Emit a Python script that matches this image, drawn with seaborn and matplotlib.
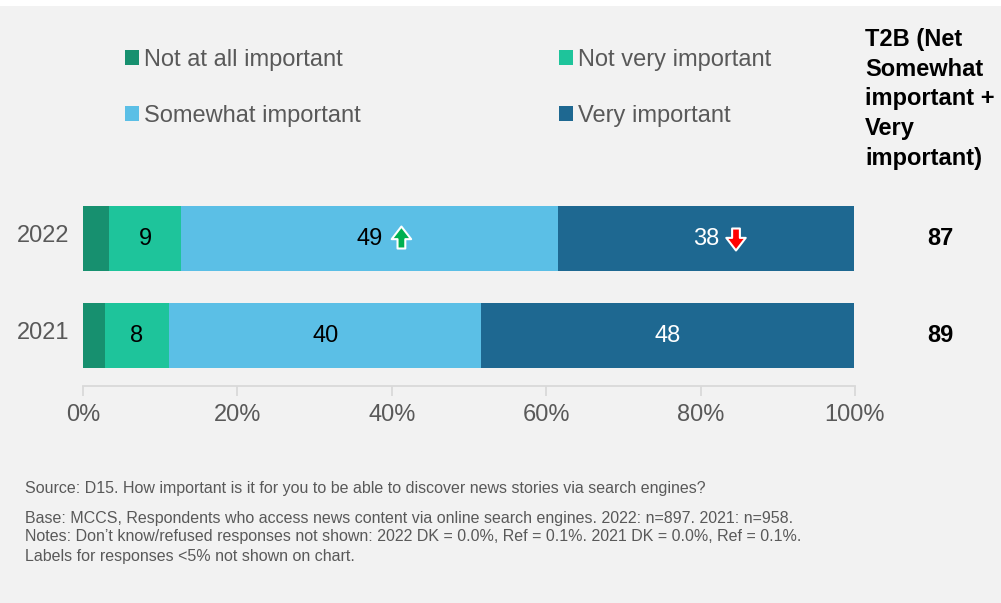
import matplotlib
matplotlib.use("Agg")
import matplotlib.pyplot as plt
from matplotlib.patches import Patch, Rectangle
from matplotlib.transforms import offset_copy, blended_transform_factory, ScaledTranslation
import numpy as np
import pandas as pd
import seaborn as sns

# ---- data -------------------------------------------------------------
years = ["2022", "2021"]
categories = ["Not at all important", "Not very important",
              "Somewhat important", "Very important"]
not_at_all = [3.4, 2.8]
not_very = [9.3, 8.4]
somewhat = [48.8, 40.4]
very = [38.4, 48.3]
t2b = [87, 89]
xticks = [0, 20, 40, 60, 80, 100]
xtick_labels = ["0%", "20%", "40%", "60%", "80%", "100%"]

colors = ["#17906f", "#1ec49b", "#5bbfe6", "#1e6891"]
label_colors = ["black", "black", "black", "white"]
BG = "#f2f2f2"
GREY_TXT = "#595959"

sns.set_theme(style="white")
plt.rcParams["font.family"] = ["Liberation Sans", "DejaVu Sans"]

df = pd.DataFrame({
    "year": years,
    categories[0]: not_at_all,
    categories[1]: not_very,
    categories[2]: somewhat,
    categories[3]: very,
})
segs = df[categories].to_numpy()
cum = np.cumsum(segs, axis=1)

fig = plt.figure(figsize=(10.01, 6.03), dpi=100, facecolor=BG)
fig.patches.append(Rectangle((0, 1 - 6 / 603), 1, 6 / 603, transform=fig.transFigure,
                             facecolor="white", edgecolor="none", zorder=0))
ax = fig.add_axes([83 / 1001, 1 - 386 / 603, 772 / 1001, 196 / 603])
ax.set_facecolor(BG)

# stacked bars: draw cumulative totals from the largest down
for j in range(len(categories) - 1, -1, -1):
    plot_df = pd.DataFrame({"year": years, "value": cum[:, j]})
    sns.barplot(data=plot_df, x="value", y="year", order=years, orient="h",
                color=colors[j], saturation=1, width=0.67, ax=ax,
                edgecolor="none", linewidth=0)

ax.set_xlim(0, 100)
ax.set_ylim(1.52, -0.5)
ax.set_xlabel("")
ax.set_ylabel("")

# segment labels (responses under 5% are left unlabelled)
for i in range(len(years)):
    for j in range(len(categories)):
        v = segs[i, j]
        if v < 5:
            continue
        cx = cum[i, j] - v / 2
        ax.text(cx, i, f"{v:.0f}", ha="center", va="center",
                fontsize=17, color=label_colors[j])

# significance arrows for 2022
def sig_arrow(x, y, up, face, dx):
    tip = offset_copy(ax.transData, fig=fig, x=dx, y=12 if up else -12, units="dots")
    tail = offset_copy(ax.transData, fig=fig, x=dx, y=-10 if up else 10, units="dots")
    ax.annotate("", xy=(x, y), xycoords=tip, xytext=(x, y), textcoords=tail,
                arrowprops=dict(arrowstyle="simple,head_length=0.65,head_width=1.0,tail_width=0.4",
                                mutation_scale=14, fc=face, ec="white", lw=1.5,
                                shrinkA=0, shrinkB=0))

sig_arrow(cum[0, 2] - segs[0, 2] / 2, 0, True, "#00b050", 32)
sig_arrow(cum[0, 3] - segs[0, 3] / 2, 0, False, "#ff0000", 30)

# axes styling
sns.despine(ax=ax, left=True, top=True, right=True)
ax.spines["bottom"].set_color("#d9d9d9")
ax.spines["bottom"].set_linewidth(1.3)
ax.set_xticks(xticks)
ax.set_xticklabels(xtick_labels)
ax.tick_params(axis="x", bottom=True, length=7, width=1.3, color="#d9d9d9",
               labelsize=17, labelcolor=GREY_TXT, pad=6)
ax.tick_params(axis="y", left=False, length=0, labelsize=17, labelcolor=GREY_TXT, pad=10)
lift = ScaledTranslation(0, 5 / 100, fig.dpi_scale_trans)
for lbl in ax.get_yticklabels():
    lbl.set_transform(lbl.get_transform() + lift)

# legend, filled row by row
order = [0, 2, 1, 3]
handles = [Patch(facecolor=colors[k], edgecolor="none") for k in order]
fig.legend(handles, [categories[k] for k in order], loc="upper left",
           bbox_to_anchor=(125 / 1001, 1 - 49 / 603),
           ncol=2, frameon=False, fontsize=17, labelcolor=GREY_TXT,
           handlelength=0.6, handleheight=0.6, handletextpad=0.2,
           columnspacing=8.4, labelspacing=1.42, borderpad=0, borderaxespad=0)

# T2B column
fig.text(865 / 1001, 1 - 28 / 603,
         "T2B (Net\nSomewhat\nimportant +\nVery\nimportant)",
         ha="left", va="top", fontsize=17, fontweight="bold", color="black",
         linespacing=1.37)
bt = blended_transform_factory(fig.transFigure, ax.transData)
for i, v in enumerate(t2b):
    ax.text(940 / 1001, i, f"{v}", transform=bt, ha="center", va="center",
            fontsize=17, fontweight="bold", color="black")

# footnotes
fig.text(25 / 1001, 1 - 489 / 603,
         "Source: D15. How important is it for you to be able to discover news stories via search engines?",
         ha="left", va="center", fontsize=11.5, color=GREY_TXT)
notes = [
    "Base: MCCS, Respondents who access news content via online search engines. 2022: n=897. 2021: n=958.",
    "Notes: Don\u2019t know/refused responses not shown: 2022 DK = 0.0%, Ref = 0.1%. 2021 DK = 0.0%, Ref = 0.1%.",
    "Labels for responses <5% not shown on chart.",
]
for k, line in enumerate(notes):
    fig.text(25 / 1001, 1 - (518 + 19 * k) / 603, line,
             ha="left", va="center", fontsize=11.5, color=GREY_TXT)

fig.savefig("out.png", dpi=100, facecolor=BG)
